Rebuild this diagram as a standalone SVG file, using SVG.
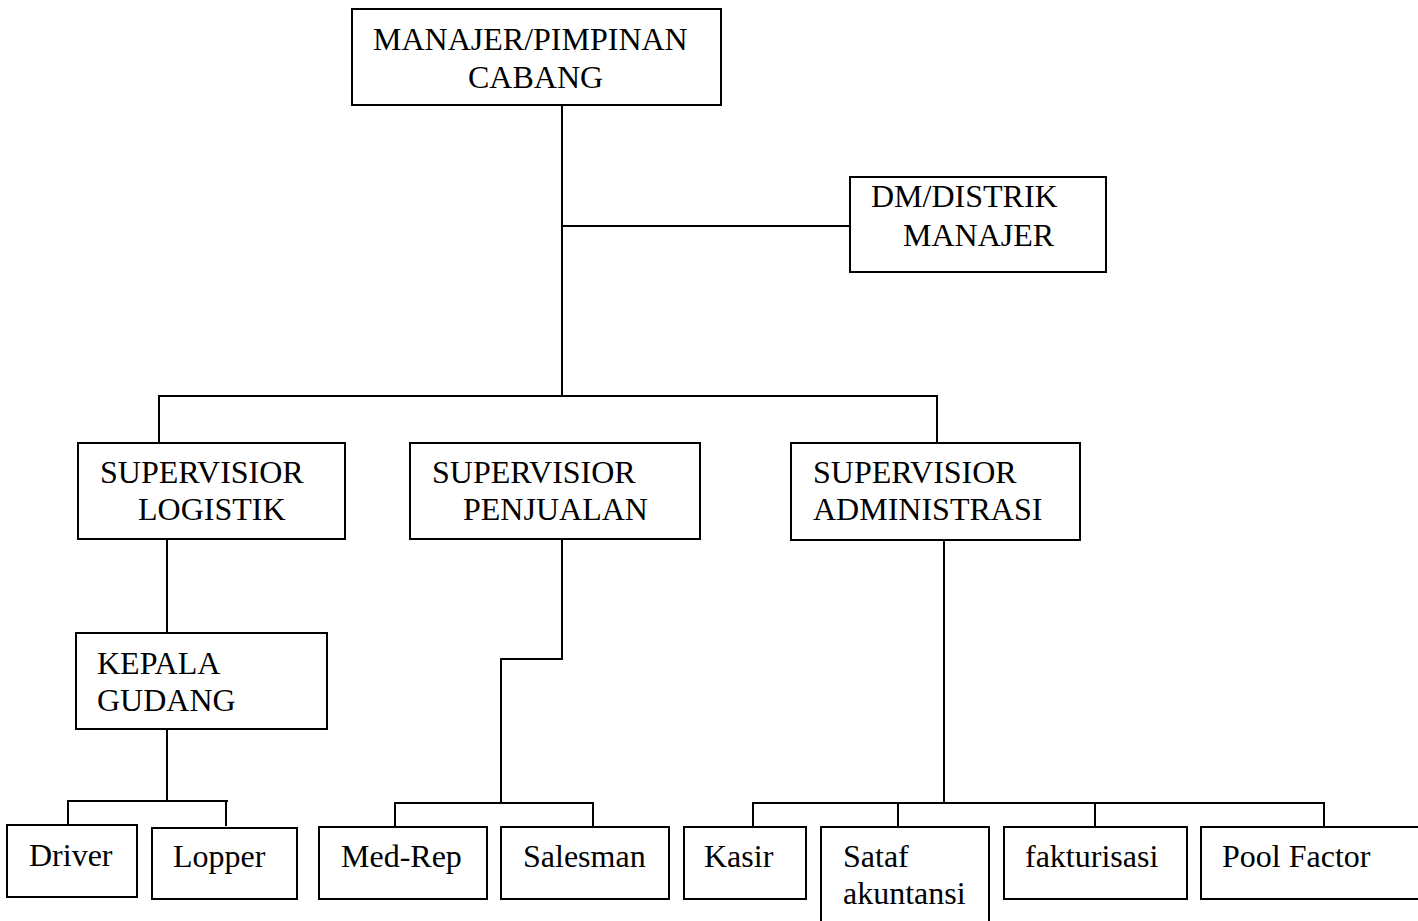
<svg xmlns="http://www.w3.org/2000/svg" width="1418" height="921" viewBox="0 0 1418 921">
<style>
rect{fill:#fff;stroke:#000;stroke-width:2}
text{font-family:'Liberation Serif','DejaVu Serif',serif;font-size:32px;fill:#000}
#connectors path{fill:none;stroke:#000;stroke-width:2}
</style>
<rect x="0" y="0" width="1418" height="921" style="stroke:none"/>
<g id="connectors">
<path d="M562,105 V396"/>
<path d="M562,226 H850"/>
<path d="M159,443 V396 H937 V443"/>
<path d="M167,540 V633"/>
<path d="M167,729 V802"/>
<path d="M68,825 V801 H228"/>
<path d="M226,801 V826"/>
<path d="M562,540 V659 H501 V803"/>
<path d="M395,827 V803 H593 V827"/>
<path d="M944,540 V803"/>
<path d="M753,827 V803 H1324 V827"/>
<path d="M898,803 V827"/>
<path d="M1095,803 V827"/>
</g>
<g id="manajer">
<rect x="352" y="9" width="369" height="96"/>
<text x="373" y="50">MANAJER/PIMPINAN</text>
<text x="468" y="88">CABANG</text>
</g>
<g id="dm">
<rect x="850" y="177" width="256" height="95"/>
<text x="871" y="207">DM/DISTRIK</text>
<text x="903" y="246">MANAJER</text>
</g>
<g id="sup-logistik">
<rect x="78" y="443" width="267" height="96"/>
<text x="100" y="483">SUPERVISIOR</text>
<text x="138" y="520">LOGISTIK</text>
</g>
<g id="sup-penjualan">
<rect x="410" y="443" width="290" height="96"/>
<text x="432" y="483">SUPERVISIOR</text>
<text x="463" y="520">PENJUALAN</text>
</g>
<g id="sup-admin">
<rect x="791" y="443" width="289" height="97"/>
<text x="813" y="483">SUPERVISIOR</text>
<text x="813" y="520">ADMINISTRASI</text>
</g>
<g id="kepala">
<rect x="76" y="633" width="251" height="96"/>
<text x="97" y="674">KEPALA</text>
<text x="97" y="711">GUDANG</text>
</g>
<g id="driver">
<rect x="7" y="825" width="130" height="72"/>
<text x="29" y="866">Driver</text>
</g>
<g id="lopper">
<rect x="152" y="828" width="145" height="71"/>
<text x="173" y="867">Lopper</text>
</g>
<g id="medrep">
<rect x="319" y="827" width="168" height="72"/>
<text x="341" y="867">Med-Rep</text>
</g>
<g id="salesman">
<rect x="501" y="827" width="168" height="72"/>
<text x="523" y="867">Salesman</text>
</g>
<g id="kasir">
<rect x="684" y="827" width="122" height="72"/>
<text x="704" y="867">Kasir</text>
</g>
<g id="sataf">
<rect x="821" y="827" width="168" height="110"/>
<text x="843" y="867">Sataf</text>
<text x="843" y="904">akuntansi</text>
</g>
<g id="fakturisasi">
<rect x="1004" y="827" width="183" height="72"/>
<text x="1025" y="867">fakturisasi</text>
</g>
<g id="pool">
<rect x="1201" y="827" width="230" height="72"/>
<text x="1222" y="867">Pool Factor</text>
</g>
</svg>
